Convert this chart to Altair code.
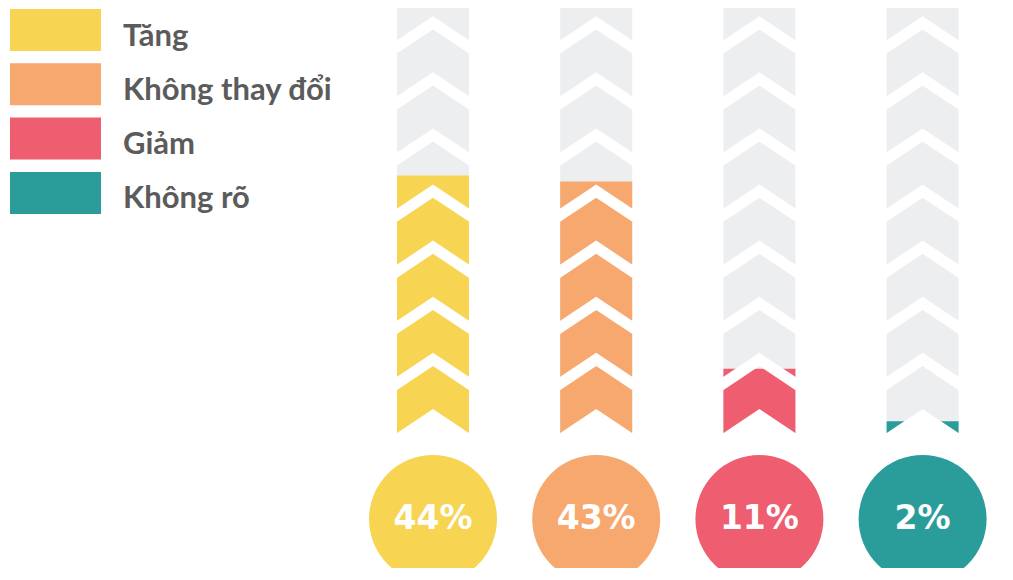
import altair as alt
import pandas as pd

# ---- data ----
categories = ["Tăng", "Không thay đổi", "Giảm", "Không rõ"]
values = [44, 43, 11, 2]
colors = ["#F7D452", "#F6A86F", "#EE5D70", "#2A9D9B"]

# ---- layout constants (pixels of the plot area) ----
W, H = 997, 560
PX_PER_PCT = 5.85          # vertical pixels per percentage point
COL_SPACING = 163.2        # pixels between column centres
ORIGIN_X = 425             # plot x of first column centre
BASE_Y = 425               # plot y of bar bottom
HALF = 36 / COL_SPACING    # half bar width (column units)
EXT = 10 / COL_SPACING     # white separators overshoot the bar edges
PITCH = 56.1 / PX_PER_PCT  # chevron pitch (percent units)
DROP = 24 / PX_PER_PCT     # chevron drop from centre to side
BAND = 13 / PX_PER_PCT     # white band vertical thickness
CIRCLE_Y = -86 / PX_PER_PCT
N_SEP = 8

xdom = [-ORIGIN_X / COL_SPACING, (W - ORIGIN_X) / COL_SPACING]
ydom = [-(H - BASE_Y) / PX_PER_PCT, BASE_Y / PX_PER_PCT]
xs = alt.Scale(domain=xdom, nice=False, zero=False)
ys = alt.Scale(domain=ydom, nice=False, zero=False)
cs = alt.Scale(domain=categories, range=colors)

bars = pd.DataFrame({
    "idx": list(range(len(categories))),
    "cat": categories,
    "value": values,
    "label": [f"{v}%" for v in values],
})
bars["x0"] = bars["idx"] - HALF
bars["x1"] = bars["idx"] + HALF
bars["zero"] = 0.0
bars["full"] = 100.0
bars["cy"] = CIRCLE_Y

sep_rows, notch_rows = [], []
reach = HALF + EXT
for i in range(len(categories)):
    for k in range(1, N_SEP + 1):
        tip = DROP + k * PITCH - BAND / 2
        for j in (-1, 0, 1):
            sep_rows.append({"id": f"{i}-{k}", "j": j,
                             "x": i + j * reach,
                             "y": tip - DROP * abs(j) * reach / HALF})
    for j in (-1, 0, 1):
        notch_rows.append({"col": i, "x": i + j * reach,
                           "y": DROP - DROP * abs(j) * reach / HALF, "b": -1.0})
seps = pd.DataFrame(sep_rows)
notch = pd.DataFrame(notch_rows)

X = lambda f: alt.X(f, scale=xs, axis=None)
Y = lambda f: alt.Y(f, scale=ys, axis=None)
C = alt.Color("cat:N", scale=cs, legend=None)

gray = alt.Chart(bars).mark_rect(color="#EDEEF0", clip=True).encode(
    x=X("x0:Q"), x2="x1:Q", y=Y("zero:Q"), y2="full:Q")
fill = alt.Chart(bars).mark_rect().encode(
    x=X("x0:Q"), x2="x1:Q", y=Y("zero:Q"), y2="value:Q", color=C)
sep = alt.Chart(seps).mark_line(color="white", strokeWidth=11, strokeJoin="miter",
                                strokeCap="butt", strokeMiterLimit=10).encode(
    x=X("x:Q"), y=Y("y:Q"), detail="id:N", order="j:Q")
notch_l = alt.Chart(notch).mark_area(color="white", orient="vertical").encode(
    x=X("x:Q"), y=Y("y:Q"), y2="b:Q", detail="col:N")
circ = alt.Chart(bars).mark_circle(size=128 * 128, opacity=1).encode(
    x=X("idx:Q"), y=Y("cy:Q"), color=C)
ctext = alt.Chart(bars).mark_text(font="DejaVu Sans", fontWeight="bold", fontSize=33,
                                  color="white", baseline="middle").encode(
    x=X("idx:Q"), y=Y("cy:Q"), text="label:N")

main = alt.layer(gray, fill, sep, notch_l, circ, ctext)

# ---- legend drawn as marks ----
leg = pd.DataFrame({"cat": categories, "row": list(range(len(categories)))})
ROW0, ROWSTEP = 22, 54.3
lys = alt.Scale(domain=[-ROW0 / ROWSTEP, (H - ROW0) / ROWSTEP], reverse=True,
                nice=False, zero=False)
rect_path = "M-1,-0.4615L1,-0.4615L1,0.4615L-1,0.4615Z"
lrect = alt.Chart(leg).mark_point(shape=rect_path, size=91 * 91, filled=True,
                                  opacity=1, strokeWidth=0).encode(
    x=alt.value(47.5), y=alt.Y("row:Q", scale=lys, axis=None), color=C)
ltext = alt.Chart(leg).mark_text(align="left", baseline="alphabetic", dy=15.5,
                                 font="Lato", fontWeight="bold", fontSize=31,
                                 color="#5b5b5b").encode(
    x=alt.value(115), y=alt.Y("row:Q", scale=lys, axis=None), text="cat:N")
legend = alt.layer(lrect, ltext)

chart = alt.layer(main, legend).resolve_scale(
    x="independent", y="independent", color="shared"
).properties(
    width=W, height=H, padding=0, autosize=alt.AutoSizeParams(type="none")
).configure_view(stroke=None)

chart.save("out.html", embed_options={"renderer": "svg", "actions": False})
